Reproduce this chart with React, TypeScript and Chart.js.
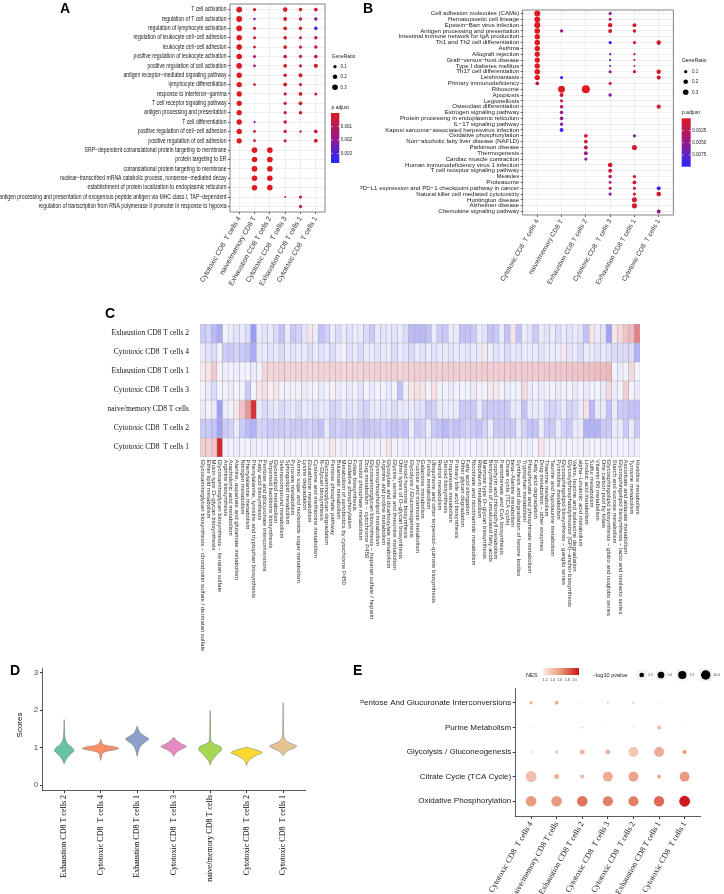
import React, { useEffect, useRef } from 'react';
import { Chart, registerables } from 'chart.js';

Chart.register(...registerables);

const SANS = 'Arial, "Liberation Sans", Helvetica, sans-serif';
const SERIF = '"Times New Roman", "Liberation Serif", Times, serif';

// ---------------- Panel A data ----------------
const aGroups = ['Cytotoxic CD8  T cells 4', 'naive/memory CD8 T', 'Exhaustion CD8 T cells 2', 'Cytotoxic CD8  T cells 3', 'Exhaustion CD8 T cells 1', 'Cytotoxic CD8  T cells 1'];
const aTerms = [
  'T cell activation',
  'regulation of T cell activation',
  'regulation of lymphocyte activation',
  'regulation of leukocyte cell\u2212cell adhesion',
  'leukocyte cell\u2212cell adhesion',
  'positive regulation of leukocyte activation',
  'positive regulation of cell activation',
  'antigen receptor\u2212mediated signaling pathway',
  'lymphocyte differentiation',
  'response to interferon\u2212gamma',
  'T cell receptor signaling pathway',
  'antigen processing and presentation',
  'T cell differentiation',
  'positive regulation of cell\u2212cell adhesion',
  'positive regulation of cell adhesion',
  'SRP\u2212dependent cotranslational protein targeting to membrane',
  'protein targeting to ER',
  'cotranslational protein targeting to membrane',
  'nuclear\u2212transcribed mRNA catabolic process, nonsense\u2212mediated decay',
  'establishment of protein localization to endoplasmic reticulum',
  'antigen processing and presentation of exogenous peptide antigen via MHC class I, TAP\u2212dependent',
  'regulation of transcription from RNA polymerase II promoter in response to hypoxia',
];
const aGeneRatio = [
  [0.33, 0.1, null, 0.2, 0.12, 0.13],
  [0.32, 0.06, null, 0.14, 0.11, 0.12],
  [0.33, 0.1, null, 0.14, 0.12, 0.12],
  [0.3, 0.09, null, 0.13, 0.09, 0.12],
  [0.3, 0.08, null, 0.13, 0.1, 0.12],
  [0.3, 0.09, null, 0.13, 0.1, 0.13],
  [0.31, 0.08, null, 0.13, 0.1, 0.16],
  [0.28, null, null, 0.11, 0.15, null],
  [0.28, 0.08, null, 0.15, 0.1, null],
  [0.27, null, null, 0.1, 0.13, 0.09],
  [0.27, null, null, 0.1, 0.14, null],
  [0.27, null, null, 0.1, 0.12, null],
  [0.28, 0.05, null, 0.12, null, null],
  [0.28, 0.08, null, 0.11, 0.06, 0.13],
  [0.27, 0.08, null, 0.1, null, 0.15],
  [null, 0.3, 0.3, null, null, null],
  [null, 0.3, 0.31, null, null, null],
  [null, 0.3, 0.3, null, null, null],
  [null, 0.3, 0.3, null, null, null],
  [null, 0.29, 0.3, null, null, null],
  [null, null, null, 0.04, 0.1, null],
  [null, null, null, null, 0.1, null],
];
const aPadjust = [
  [0.00001, 0.0004, null, 0.00002, 0.0003, 0.0004],
  [0.00001, 0.0021, null, 0.0002, 0.0003, 0.0021],
  [0.00001, 0.0005, null, 0.0002, 0.0003, 0.0036],
  [0.00001, 0.0006, null, 0.0003, 0.0005, 0.0006],
  [0.00001, 0.0006, null, 0.0003, 0.0004, 0.0005],
  [0.00001, 0.0011, null, 0.0003, 0.0004, 0.0005],
  [0.00001, 0.0013, null, 0.0003, 0.0004, 0.0004],
  [0.00001, null, null, 0.0003, 0.0002, null],
  [0.00001, 0.0006, null, 0.0002, 0.0005, null],
  [0.00001, null, null, 0.0004, 0.0002, 0.0006],
  [0.00001, null, null, 0.0004, 0.0002, null],
  [0.00001, null, null, 0.0004, 0.0002, null],
  [0.00001, 0.0022, null, 0.0003, null, null],
  [0.00001, 0.0006, null, 0.0004, 0.0006, 0.0005],
  [0.00001, 0.0006, null, 0.0005, null, 0.0004],
  [null, 0.00001, 0.00001, null, null, null],
  [null, 0.00001, 0.00001, null, null, null],
  [null, 0.00001, 0.00001, null, null, null],
  [null, 0.00001, 0.00001, null, null, null],
  [null, 0.00001, 0.00001, null, null, null],
  [null, null, null, 0.0005, 0.0004, null],
  [null, null, null, null, 0.0004, null],
];
const aPadjMax = 0.0037;
const aSizeBreaks = [0.1, 0.2, 0.3];
const aPadjBreaks = [0.001, 0.002, 0.003];

// ---------------- Panel B data ----------------
const bGroups = aGroups;
const bTerms = [
  'Cell adhesion molecules (CAMs)',
  'Hematopoietic cell lineage',
  'Epstein\u2212Barr virus infection',
  'Antigen processing and presentation',
  'Intestinal immune network for IgA production',
  'Th1 and Th2 cell differentiation',
  'Asthma',
  'Allograft rejection',
  'Graft\u2212versus\u2212host disease',
  'Type I diabetes mellitus',
  'Th17 cell differentiation',
  'Leishmaniasis',
  'Primary immunodeficiency',
  'Ribosome',
  'Apoptosis',
  'Legionellosis',
  'Osteoclast differentiation',
  'Estrogen signaling pathway',
  'Protein processing in endoplasmic reticulum',
  'IL\u221217 signaling pathway',
  'Kaposi sarcoma\u2212associated herpesvirus infection',
  'Oxidative phosphorylation',
  'Non\u2212alcoholic fatty liver disease (NAFLD)',
  'Parkinson disease',
  'Thermogenesis',
  'Cardiac muscle contraction',
  'Human immunodeficiency virus 1 infection',
  'T cell receptor signaling pathway',
  'Measles',
  'Proteasome',
  'PD\u2212L1 expression and PD\u22121 checkpoint pathway in cancer',
  'Natural killer cell mediated cytotoxicity',
  'Huntington disease',
  'Alzheimer disease',
  'Chemokine signaling pathway',
];
const bGeneRatio = [
  [0.35, null, null, 0.1, null, null],
  [0.33, null, null, 0.08, null, null],
  [0.35, null, null, 0.19, 0.15, null],
  [0.3, 0.1, null, 0.15, 0.12, null],
  [0.28, null, null, null, null, null],
  [0.3, null, null, 0.1, 0.1, 0.2],
  [0.27, null, null, null, null, null],
  [0.27, null, null, 0.05, 0.05, null],
  [0.27, null, null, 0.05, 0.05, null],
  [0.27, null, null, 0.04, 0.04, null],
  [0.3, null, null, 0.09, 0.1, 0.2],
  [0.27, 0.1, null, null, null, 0.17],
  [0.13, null, null, 0.09, null, null],
  [null, 0.45, 0.62, null, null, null],
  [null, 0.15, null, 0.12, null, null],
  [null, 0.09, null, null, null, null],
  [null, 0.12, null, null, null, 0.18],
  [null, 0.12, null, null, null, null],
  [null, 0.13, null, null, null, null],
  [null, 0.1, null, null, null, null],
  [null, 0.15, null, null, null, null],
  [null, null, 0.14, null, 0.1, null],
  [null, null, 0.14, null, null, null],
  [null, null, 0.15, null, 0.25, null],
  [null, null, 0.14, null, null, null],
  [null, null, 0.1, null, null, null],
  [null, null, null, 0.2, null, null],
  [null, null, null, 0.15, null, null],
  [null, null, null, 0.12, 0.1, null],
  [null, null, null, 0.08, 0.15, null],
  [null, null, null, 0.09, 0.09, 0.15],
  [null, null, null, 0.1, 0.1, 0.2],
  [null, null, null, null, 0.24, null],
  [null, null, null, null, 0.25, null],
  [null, null, null, null, null, 0.15],
];
const bPadjust = [
  [0.0001, null, null, 0.005, null, null],
  [0.0001, null, null, 0.005, null, null],
  [0.0001, null, null, 0.0005, 0.0005, null],
  [0.0001, 0.004, null, 0.0005, 0.0008, null],
  [0.0002, null, null, null, null, null],
  [0.0001, null, null, 0.0095, 0.001, 0.0006],
  [0.0002, null, null, null, null, null],
  [0.0002, null, null, 0.006, 0.0015, null],
  [0.0002, null, null, 0.007, 0.0015, null],
  [0.0002, null, null, 0.0075, 0.002, null],
  [0.0001, null, null, 0.0055, 0.001, 0.0006],
  [0.0002, 0.009, null, null, null, 0.0008],
  [0.003, null, null, 0.001, null, null],
  [null, 0.0001, 0.0001, null, null, null],
  [null, 0.0015, null, 0.006, null, null],
  [null, 0.0025, null, null, null, null],
  [null, 0.003, null, null, null, 0.001],
  [null, 0.005, null, null, null, null],
  [null, 0.0055, null, null, null, null],
  [null, 0.006, null, null, null, null],
  [null, 0.0095, null, null, null, null],
  [null, null, 0.001, null, 0.006, null],
  [null, null, 0.001, null, null, null],
  [null, null, 0.002, null, 0.0008, null],
  [null, null, 0.004, null, null, null],
  [null, null, 0.005, null, null, null],
  [null, null, null, 0.0005, null, null],
  [null, null, null, 0.001, null, null],
  [null, null, null, 0.003, 0.001, null],
  [null, null, null, 0.003, 0.001, null],
  [null, null, null, 0.003, 0.0015, 0.0095],
  [null, null, null, 0.006, 0.0012, 0.001],
  [null, null, null, null, 0.0008, null],
  [null, null, null, null, 0.0008, null],
  [null, null, null, null, null, 0.005],
];
const bPadjMax = 0.0099;
const bSizeBreaks = [0.1, 0.2, 0.3];
const bPadjBreaks = [0.0025, 0.005, 0.0075];

// ---------------- Panel C data ----------------
const cRows = ['Exhaustion CD8 T cells 2', 'Cytotoxic CD8  T cells 4', 'Exhaustion CD8 T cells 1', 'Cytotoxic CD8  T cells 3', 'naive/memory CD8 T cells', 'Cytotoxic CD8  T cells 2', 'Cytotoxic CD8  T cells 1'];
const cPathways = [
  'Glycosaminoglycan biosynthesis \u2212 chondroitin sulfate / dermatan sulfate',
  'Ether lipid metabolism',
  'Mucin type O\u2212glycan biosynthesis',
  'Glycosaminoglycan biosynthesis \u2212 keratan sulfate',
  'Arginine biosynthesis',
  'Arachidonic acid metabolism',
  'Alanine, aspartate and glutamate metabolism',
  'Nitrogen metabolism',
  'Phenylalanine metabolism',
  'Phenylalanine, tyrosine and tryptophan biosynthesis',
  'Fatty acid biosynthesis',
  'Pentose and glucuronate interconversions',
  'Terpenoid backbone biosynthesis',
  'Glycerolipid metabolism',
  'Selenocompound metabolism',
  'Sphingolipid metabolism',
  'Pyruvate metabolism',
  'Amino sugar and nucleotide sugar metabolism',
  'Lysine degradation',
  'Glutathione metabolism',
  'Cysteine and methionine metabolism',
  'N\u2212Glycan biosynthesis',
  'Glycosaminoglycan degradation',
  'Pentose phosphate pathway',
  'Butanoate metabolism',
  'Metabolism of xenobiotics by cytochrome P450',
  'Oxidative phosphorylation',
  'Folate biosynthesis',
  'Inositol phosphate metabolism',
  'Drug metabolism \u2212 cytochrome P450',
  'Glycosaminoglycan biosynthesis \u2212 heparan sulfate / heparin',
  'Glycerophospholipid metabolism',
  'Arginine and proline metabolism',
  'Glyoxylate and dicarboxylate metabolism',
  'Glycine, serine and threonine metabolism',
  'Other types of O\u2212glycan biosynthesis',
  'Steroid hormone biosynthesis',
  'Glycolysis / Gluconeogenesis',
  'Fructose and mannose metabolism',
  'Galactose metabolism',
  'Purine metabolism',
  'Ubiquinone and other terpenoid\u2212quinone biosynthesis',
  'Retinol metabolism',
  'Steroid biosynthesis',
  'Propanoate metabolism',
  'Primary bile acid biosynthesis',
  'Other glycan degradation',
  'Fatty acid elongation',
  'Nicotinate and nicotinamide metabolism',
  'Riboflavin metabolism',
  'Mannose type O\u2212glycan biosynthesis',
  'Biosynthesis of unsaturated fatty acids',
  'Porphyrin and chlorophyll metabolism',
  'Pantothenate and CoA biosynthesis',
  'Citrate cycle (TCA cycle)',
  'beta\u2212Alanine metabolism',
  'Synthesis and degradation of ketone bodies',
  'Tryptophan metabolism',
  'Phosphonate and phosphinate metabolism',
  'Fatty acid degradation',
  'Drug metabolism \u2212 other enzymes',
  'Thiamine metabolism',
  'Taurine and hypotaurine metabolism',
  'Pyrimidine metabolism',
  'Glycosphingolipid biosynthesis \u2212 ganglio series',
  'Glycosylphosphatidylinositol (GPI)\u2212anchor biosynthesis',
  'Valine, leucine and isoleucine degradation',
  'alpha\u2212Linolenic acid metabolism',
  'Linoleic acid metabolism',
  'Sulfur metabolism',
  'Vitamin B6 metabolism',
  'One carbon pool by folate',
  'Glycosphingolipid biosynthesis \u2212 globo and isoglobo series',
  'Starch and sucrose metabolism',
  'Glycosphingolipid biosynthesis \u2212 lacto and neolacto series',
  'Ascorbate and aldarate metabolism',
  'Tyrosine metabolism',
  'Histidine metabolism',
];
const cExhaustion2 = [
  -0.3, -0.25, -0.4, -0.5, -0.05, -0.1, -0.15, -0.1, -0.2, -0.6,
  -0.1, -0.15, -0.1, -0.2, -0.35, -0.1, -0.3, -0.25, -0.15, 0.1,
  -0.1, -0.35, -0.25, -0.1, -0.2, -0.1, -0.15, -0.1, -0.1, -0.2,
  -0.3, -0.1, -0.15, -0.1, -0.15, -0.1, -0.2, -0.4, -0.4, -0.4,
  -0.35, -0.1, -0.3, -0.3, -0.1, -0.1, -0.35, -0.35, -0.3, -0.1,
  -0.15, -0.35, -0.3, -0.1, -0.35, 0.1, -0.35, -0.1, -0.15, -0.3,
  -0.1, -0.15, -0.1, -0.2, -0.1, -0.15, -0.1, -0.15, -0.35, 0.1,
  -0.1, -0.15, -0.55, 0.1, 0.15, 0.25, 0.3, 0.55,
];
const cCytotoxic4 = [
  -0.1, -0.15, -0.2, -0.05, -0.3, -0.3, -0.25, -0.3, -0.35, -0.5,
  -0.1, -0.1, -0.15, -0.1, -0.2, -0.1, -0.15, -0.1, -0.1, -0.2,
  -0.1, -0.15, -0.1, -0.2, -0.1, -0.05, -0.15, -0.1, -0.2, -0.1,
  -0.1, -0.15, -0.1, -0.1, -0.2, -0.1, -0.15, -0.2, -0.1, -0.15,
  -0.1, -0.15, -0.1, -0.1, -0.15, -0.1, -0.1, -0.15, -0.1, -0.1,
  0.08, -0.1, -0.15, -0.1, -0.2, -0.1, -0.15, -0.1, -0.1, -0.1,
  -0.15, -0.1, -0.1, -0.1, 0.08, -0.15, -0.1, -0.2, -0.1, -0.1,
  -0.15, -0.1, -0.15, -0.2, -0.2, -0.2, -0.2, -0.45,
];
const cExhaustion1 = [
  0.08, 0.1, 0.22, -0.05, -0.08, -0.05, -0.08, -0.05, -0.05, -0.1,
  -0.05, 0.17, 0.17, 0.17, 0.18, 0.17, 0.17, 0.18, 0.17, 0.17,
  0.17, 0.18, 0.17, 0.18, 0.18, 0.17, 0.18, 0.18, 0.17, 0.18,
  0.18, 0.19, 0.18, 0.19, 0.19, 0.18, 0.19, 0.19, 0.2, 0.19,
  0.19, 0.2, 0.19, 0.2, 0.2, 0.2, 0.2, 0.21, 0.2, 0.2,
  0.21, 0.21, 0.2, 0.21, 0.21, 0.22, 0.21, 0.22, 0.22, 0.22,
  0.22, 0.23, 0.23, 0.24, 0.23, 0.24, 0.25, 0.25, 0.26, 0.27,
  0.28, 0.28, 0.3, -0.05, -0.1, -0.05, 0.15, -0.05,
];
const cCytotoxic3 = [
  -0.05, -0.1, -0.2, -0.05, -0.05, -0.1, -0.05, -0.05, -0.3, -0.05,
  0.1, 0.12, 0.05, 0.1, -0.05, 0.05, -0.05, 0.05, -0.1, -0.05,
  -0.05, -0.1, -0.05, 0.05, -0.1, -0.05, -0.1, -0.05, -0.15, -0.05,
  -0.1, -0.05, -0.05, -0.1, -0.05, -0.35, -0.05, 0.1, 0.12, 0.1,
  -0.05, 0.12, -0.05, -0.05, -0.1, -0.05, -0.05, -0.05, -0.1, 0.05,
  -0.05, 0.08, 0.08, -0.05, -0.1, -0.05, -0.05, 0.15, -0.1, -0.05,
  -0.1, -0.05, -0.05, -0.1, -0.05, -0.05, -0.1, -0.05, -0.1, -0.05,
  -0.05, -0.1, 0.15, -0.1, -0.05, 0.2, -0.05, -0.1,
];
const cNaiveMemory = [
  -0.1, -0.05, -0.1, -0.55, -0.1, -0.05, 0.1, 0.25, 0.45, 0.9,
  -0.1, -0.2, -0.15, -0.1, -0.2, -0.15, -0.1, -0.2, -0.1, -0.1,
  -0.15, -0.1, -0.1, -0.25, -0.2, -0.1, -0.15, -0.1, -0.2, -0.25,
  -0.1, -0.1, -0.15, -0.1, -0.2, -0.1, -0.1, -0.1, -0.15, -0.15,
  -0.3, -0.25, -0.1, -0.1, -0.1, -0.1, -0.3, -0.3, -0.3, -0.1,
  -0.3, -0.3, -0.3, -0.3, -0.3, -0.1, -0.1, -0.35, -0.1, -0.1,
  -0.1, -0.2, -0.25, -0.2, -0.1, -0.25, -0.2, -0.1, 0.12, -0.4,
  -0.1, -0.1, -0.35, -0.1, -0.3, -0.3, -0.35, -0.35,
];
const cCytotoxic2 = [
  -0.3, -0.3, -0.35, -0.55, -0.3, -0.25, -0.1, -0.3, -0.4, -0.45,
  -0.25, -0.25, -0.3, -0.3, -0.3, -0.25, -0.3, -0.3, -0.3, -0.25,
  -0.3, -0.35, -0.1, -0.3, -0.25, -0.3, -0.3, -0.25, -0.3, -0.35,
  -0.3, -0.3, -0.25, -0.3, -0.35, -0.3, -0.35, -0.1, -0.3, -0.25,
  -0.1, -0.3, -0.35, -0.4, -0.3, -0.35, -0.3, -0.25, -0.3, -0.35,
  -0.25, -0.1, -0.3, -0.3, -0.3, -0.3, -0.1, -0.25, -0.35, -0.35,
  -0.1, -0.3, -0.3, -0.1, -0.25, -0.3, -0.1, -0.1, -0.45, -0.45,
  -0.45, -0.3, -0.3, -0.1, -0.1, -0.3, -0.1, -0.3,
];
const cCytotoxic1 = [
  0.2, 0.2, 0.25, 0.95, -0.05, -0.05, -0.08, -0.05, -0.05, -0.08,
  -0.05, -0.05, -0.08, -0.05, -0.05, -0.08, -0.05, -0.05, -0.05, -0.08,
  -0.05, -0.05, -0.05, 0.1, -0.05, -0.08, -0.05, -0.05, -0.05, -0.08,
  -0.05, -0.05, -0.05, 0.1, -0.05, -0.05, -0.08, -0.05, -0.05, -0.05,
  -0.08, -0.05, -0.05, -0.05, -0.08, -0.05, -0.05, -0.05, -0.05, -0.08,
  -0.05, -0.05, -0.05, -0.08, -0.05, -0.05, -0.05, -0.05, -0.08, -0.05,
  0.1, -0.05, -0.05, -0.08, -0.05, -0.05, -0.05, -0.05, -0.08, -0.05,
  -0.05, -0.05, -0.08, -0.05, -0.05, -0.05, -0.08, -0.05,
];
const cScores = [cExhaustion2, cCytotoxic4, cExhaustion1, cCytotoxic3, cNaiveMemory, cCytotoxic2, cCytotoxic1];

// ---------------- Panel D data ----------------
const dGroups = ['Exhaustion CD8 T cells 2', 'Cytotoxic CD8  T cells 4', 'Exhaustion CD8 T cells 1', 'Cytotoxic CD8  T cells 3', 'naive/memory CD8 T cells', 'Cytotoxic CD8  T cells 2', 'Cytotoxic CD8  T cells 1'];
const dColors = ['#66C2A5', '#FC8D62', '#8DA0CB', '#E78AC3', '#A6D854', '#FFD92F', '#E5C494'];
const dLevels = [
  [0.57, 0.65, 0.75, 0.85, 0.92, 1.0, 1.1, 1.2, 1.3, 1.45, 1.6, 1.75],
  [0.66, 0.75, 0.85, 0.9, 0.95, 0.98, 1.02, 1.06, 1.1, 1.16, 1.22],
  [0.77, 0.85, 0.95, 1.05, 1.15, 1.23, 1.3, 1.38, 1.45, 1.52, 1.58],
  [0.77, 0.85, 0.93, 1.0, 1.04, 1.1, 1.18, 1.24, 1.28],
  [0.53, 0.62, 0.72, 0.85, 0.95, 1.03, 1.1, 1.15, 1.25, 1.5, 1.75, 2.0],
  [0.52, 0.6, 0.7, 0.8, 0.87, 0.93, 0.98, 1.02],
  [0.79, 0.86, 0.93, 1.0, 1.05, 1.1, 1.17, 1.25, 1.35, 1.6, 1.9, 2.2],
];
const dHalfWidths = [
  [0, 0.04, 0.1, 0.2, 0.27, 0.22, 0.1, 0.04, 0.02, 0.012, 0.008, 0],
  [0, 0.02, 0.05, 0.15, 0.42, 0.5, 0.4, 0.15, 0.05, 0.02, 0],
  [0, 0.02, 0.05, 0.1, 0.22, 0.32, 0.22, 0.1, 0.05, 0.02, 0],
  [0, 0.05, 0.15, 0.3, 0.35, 0.22, 0.1, 0.04, 0],
  [0, 0.03, 0.1, 0.22, 0.32, 0.28, 0.12, 0.04, 0.015, 0.01, 0.008, 0],
  [0, 0.02, 0.1, 0.28, 0.43, 0.3, 0.12, 0],
  [0, 0.05, 0.15, 0.32, 0.37, 0.25, 0.1, 0.04, 0.015, 0.008, 0.006, 0],
];
const dMeans = [0.92, 0.96, 1.23, 1.04, 0.95, 0.86, 1.04];
const dYTicks = [0, 1, 2, 3];

// ---------------- Panel E data ----------------
const eTerms = ['Pentose And Glucuronate Interconversions', 'Purine Metabolism', 'Glycolysis / Gluconeogenesis', 'Citrate Cycle (TCA Cycle)', 'Oxidative Phosphorylation'];
const eGroups = ['Cytotoxic CD8  T cells 4', 'naive/memory CD8 T cells', 'Exhaustion CD8 T cells 2', 'Cytotoxic CD8  T cells 3', 'Cytotoxic CD8  T cells 2', 'Exhaustion CD8 T cells 1', 'Cytotoxic CD8  T cells 1'];
const eLogP = [
  [1.3, 1.8, 0.2, 0.45, 0.45, 0.16, 0.1],
  [0.2, 0.07, 0.6, 0.16, 0.3, 1.8, 0.16],
  [0.75, 1.3, 2.8, 2.8, 11, 11, 1.8],
  [13.4, 2.8, 1.8, 11, 11, 1.8, 11],
  [12.5, 12.5, 12.5, 11.5, 11.5, 12, 13],
];
const eNES = [
  [1.45, 1.5, 1.3, 1.4, 1.4, 1.3, 1.2],
  [1.2, 1.2, 1.3, 1.25, 1.25, 1.4, 1.25],
  [1.25, 1.35, 1.45, 1.45, 1.35, 1.5, 1.6],
  [1.4, 1.5, 1.45, 1.5, 1.55, 1.5, 1.6],
  [1.6, 1.6, 1.75, 1.72, 1.72, 1.8, 2.1],
];
const eNesBreaks = [1.2, 1.4, 1.6, 1.8, 2.0];
const eNesRange = [1.14, 2.12];
const ePBreaks = [2.5, 5.0, 7.5, 10.0];

// ---------------- helpers ----------------
type RGB = [number, number, number];
const PADJ_STOPS: [number, RGB][] = [[0, [222, 26, 32]], [0.5, [150, 25, 140]], [1, [40, 40, 255]]];
const NES_STOPS: [number, RGB][] = [[0, [251, 236, 228]], [0.5, [232, 150, 120]], [1, [204, 20, 24]]];
const HEAT_NEG: [number, RGB][] = [[0, [250, 250, 255]], [1, [90, 90, 235]]];
const HEAT_POS: [number, RGB][] = [[0, [250, 250, 255]], [1, [205, 30, 35]]];

function mix(stops: [number, RGB][], t: number): string {
  const tt = Math.max(0, Math.min(1, t));
  for (let i = 1; i < stops.length; i++) {
    const [t0, c0] = stops[i - 1];
    const [t1, c1] = stops[i];
    if (tt <= t1) {
      const f = (tt - t0) / (t1 - t0);
      return `rgb(${Math.round(c0[0] + (c1[0] - c0[0]) * f)},${Math.round(c0[1] + (c1[1] - c0[1]) * f)},${Math.round(c0[2] + (c1[2] - c0[2]) * f)})`;
    }
  }
  const c = stops[stops.length - 1][1];
  return `rgb(${c[0]},${c[1]},${c[2]})`;
}
const heatColor = (v: number) => (v < 0 ? mix(HEAT_NEG, -v) : mix(HEAT_POS, v));
const ratioRadius = (g: number) => 5.1 * Math.sqrt(g);
const logpRadius = (p: number) => 1.5 * Math.sqrt(p);

function baseOptions(W: number, H: number, area: any) {
  return {
    responsive: false,
    maintainAspectRatio: false,
    animation: false,
    devicePixelRatio: 1,
    events: [],
    layout: { padding: { left: 0, top: area.top, right: W - area.right, bottom: 0 } },
    plugins: { legend: { display: false }, tooltip: { enabled: false }, title: { display: false } },
  };
}

const framePlugin = (color: string, width: number) => ({
  id: 'frame',
  afterDraw(chart: any) {
    const { left, top, right, bottom } = chart.chartArea;
    const c = chart.ctx;
    c.save();
    c.strokeStyle = color;
    c.lineWidth = width;
    c.strokeRect(left, top, right - left, bottom - top);
    c.restore();
  },
});

// condensed y-axis labels (narrow sans look of the original)
const condensedYLabels = (terms: string[], size: number, squeeze: number) => ({
  id: 'condensedY',
  afterDraw(chart: any) {
    const c = chart.ctx;
    const ys = chart.scales.y;
    const xRight = chart.chartArea.left - 3.5;
    c.save();
    c.font = `${size}px ${SANS}`;
    c.fillStyle = '#1a1a1a';
    c.textAlign = 'right';
    c.textBaseline = 'middle';
    c.scale(squeeze, 1);
    terms.forEach((t, i) => {
      c.fillText(t, xRight / squeeze, ys.getPixelForValue(i + 1));
    });
    c.restore();
  },
});

function dotLegendPlugin(L: any) {
  return {
    id: 'dotLegend',
    afterDraw(chart: any) {
      const c = chart.ctx;
      c.save();
      c.textBaseline = 'middle';
      c.textAlign = 'left';
      c.fillStyle = '#1a1a1a';
      c.font = `${L.titleSize}px ${SANS}`;
      c.fillText('GeneRatio', L.x, L.titleY);
      c.font = `${L.labelSize}px ${SANS}`;
      L.sizes.forEach((s: number, k: number) => {
        c.beginPath();
        c.arc(L.dotX, L.dotY[k], ratioRadius(s), 0, Math.PI * 2);
        c.fillStyle = '#000';
        c.fill();
        c.fillStyle = '#1a1a1a';
        c.fillText(s.toFixed(1), L.labelX, L.dotY[k]);
      });
      c.font = `${L.titleSize}px ${SANS}`;
      c.fillText('p.adjust', L.x, L.pTitleY);
      const g = c.createLinearGradient(0, L.barY, 0, L.barY + L.barH);
      for (let k = 0; k <= 10; k++) g.addColorStop(k / 10, mix(PADJ_STOPS, k / 10));
      c.fillStyle = g;
      c.fillRect(L.barX, L.barY, L.barW, L.barH);
      c.font = `${L.labelSize}px ${SANS}`;
      L.pBreaks.forEach((p: number) => {
        const y = L.barY + (p / L.pmax) * L.barH;
        c.strokeStyle = '#fff';
        c.lineWidth = 0.6;
        c.beginPath();
        c.moveTo(L.barX, y); c.lineTo(L.barX + 1.8, y);
        c.moveTo(L.barX + L.barW - 1.8, y); c.lineTo(L.barX + L.barW, y);
        c.stroke();
        c.fillStyle = '#1a1a1a';
        c.fillText(p.toFixed(L.digits), L.barX + L.barW + 1.5, y);
      });
      c.restore();
    },
  };
}

function dotPlotConfig(p: any) {
  const pts: any[] = [];
  const cols: string[] = [];
  p.terms.forEach((_t: string, i: number) => {
    p.groups.forEach((_g: string, j: number) => {
      const gr = p.ratio[i][j];
      if (gr == null) return;
      pts.push({ x: j + 1, y: i + 1, r: ratioRadius(gr) });
      cols.push(mix(PADJ_STOPS, p.padj[i][j] / p.pmax));
    });
  });
  const opts: any = baseOptions(p.W, p.H, p.area);
  opts.scales = {
    x: {
      type: 'linear',
      min: 0.4,
      max: p.groups.length + 0.6,
      afterBuildTicks: (s: any) => { s.ticks = p.groups.map((_g: string, j: number) => ({ value: j + 1 })); },
      afterFit: (s: any) => { s.height = p.H - p.area.bottom; },
      ticks: {
        autoSkip: false, minRotation: 60, maxRotation: 60, padding: 1,
        font: { size: p.xFontSize, family: SANS }, color: '#333',
        callback: (v: number) => p.groups[Math.round(v) - 1],
      },
      grid: { color: '#ebebeb', lineWidth: 0.8, tickColor: '#333', tickLength: 2 },
      border: { display: false },
    },
    y: {
      type: 'linear',
      reverse: true,
      min: 0.4,
      max: p.terms.length + 0.6,
      afterBuildTicks: (s: any) => { s.ticks = p.terms.map((_t: string, i: number) => ({ value: i + 1 })); },
      afterFit: (s: any) => { s.width = p.area.left; },
      ticks: {
        display: !p.condense,
        autoSkip: false, padding: 1.5,
        font: { size: p.yFontSize, family: SANS }, color: '#1a1a1a',
        callback: (v: number) => p.terms[Math.round(v) - 1],
      },
      grid: { color: '#ebebeb', lineWidth: 0.8, tickColor: '#333', tickLength: 2 },
      border: { display: false },
    },
  };
  const plugins: any[] = [framePlugin('#666', 0.8), dotLegendPlugin(p.legend)];
  if (p.condense) plugins.push(condensedYLabels(p.terms, p.yFontSize, p.condense));
  return {
    type: 'bubble',
    data: { datasets: [{ data: pts, backgroundColor: cols, borderWidth: 0 }] },
    options: opts,
    plugins,
  };
}

// ---------------- configs ----------------
const A_W = 360, A_H = 300;
const aConfig = dotPlotConfig({
  W: A_W, H: A_H, area: { left: 230, right: 325, top: 4, bottom: 212 },
  terms: aTerms, groups: aGroups, ratio: aGeneRatio, padj: aPadjust, pmax: aPadjMax,
  xFontSize: 7, yFontSize: 6.4, condense: 0.8,
  legend: {
    x: 331.5, titleY: 57, titleSize: 5, labelSize: 4.5, sizes: aSizeBreaks,
    dotX: 335, dotY: [66.7, 76.7, 87.3], labelX: 340.5,
    pTitleY: 107.7, barX: 331, barY: 113, barW: 8.3, barH: 50, pmax: aPadjMax,
    pBreaks: aPadjBreaks, digits: 3,
  },
});

const B_W = 364, B_H = 300;
const bConfig = dotPlotConfig({
  W: B_W, H: B_H, area: { left: 162.7, right: 313.3, top: 10, bottom: 215 },
  terms: bTerms, groups: bGroups, ratio: bGeneRatio, padj: bPadjust, pmax: bPadjMax,
  xFontSize: 6.6, yFontSize: 6.1, condense: 0,
  legend: {
    x: 321.7, titleY: 61, titleSize: 5.2, labelSize: 4.6, sizes: bSizeBreaks,
    dotX: 325.7, dotY: [71.7, 81.7, 92.3], labelX: 332,
    pTitleY: 113, barX: 321.7, barY: 118.3, barW: 9, barH: 48.4, pmax: bPadjMax,
    pBreaks: bPadjBreaks, digits: 4,
  },
});

const C_W = 724, C_H = 362;
const cArea = { left: 200, right: 640, top: 24, bottom: 157 };
const cColumnLabels = {
  id: 'colLabels',
  afterDraw(chart: any) {
    const c = chart.ctx;
    const xs = chart.scales.x;
    c.save();
    c.fillStyle = '#333';
    c.font = `6px ${SANS}`;
    c.textAlign = 'left';
    c.textBaseline = 'middle';
    cPathways.forEach((name, i) => {
      c.save();
      c.translate(xs.getPixelForValue(i), chart.chartArea.bottom + 2.5);
      c.rotate(Math.PI / 2);
      c.fillText(name, 0, 0);
      c.restore();
    });
    c.restore();
  },
};
const cOpts: any = baseOptions(C_W, C_H, cArea);
cOpts.scales = {
  x: {
    type: 'category',
    ticks: { display: false },
    grid: { display: false },
    border: { display: false },
    afterFit: (s: any) => { s.height = C_H - cArea.bottom; },
  },
  y: {
    type: 'linear',
    min: 0,
    max: cRows.length,
    afterBuildTicks: (s: any) => { s.ticks = cRows.map((_r, k) => ({ value: cRows.length - 0.5 - k })); },
    afterFit: (s: any) => { s.width = cArea.left; },
    ticks: {
      autoSkip: false, padding: 3,
      font: { size: 7.5, family: SERIF }, color: '#111',
      callback: (v: number) => cRows[Math.round(cRows.length - 0.5 - v)],
    },
    grid: { display: false },
    border: { display: false },
  },
};
const cConfig = {
  type: 'bar',
  data: {
    labels: cPathways,
    datasets: cRows.map((row, k) => ({
      label: row,
      data: cScores[k].map(() => [cRows.length - 1 - k, cRows.length - k]),
      backgroundColor: cScores[k].map(heatColor),
      borderColor: '#a9a9a9',
      borderWidth: 0.5,
      borderSkipped: false,
      barPercentage: 1,
      categoryPercentage: 1,
      grouped: false,
    })),
  },
  options: cOpts,
  plugins: [cColumnLabels],
};

const D_W = 360, D_H = 232;
const dArea = { left: 42.3, right: 305, top: 6, bottom: 128 };
const dTitlePlugin = {
  id: 'dTitle',
  afterDraw(chart: any) {
    const c = chart.ctx;
    c.save();
    c.translate(20, 63);
    c.rotate(-Math.PI / 2);
    c.fillStyle = '#111';
    c.font = `8px ${SANS}`;
    c.textAlign = 'center';
    c.textBaseline = 'middle';
    c.fillText('Scores', 0, 0);
    c.restore();
  },
};
const dOpts: any = baseOptions(D_W, D_H, dArea);
dOpts.scales = {
  x: {
    type: 'linear', min: 0.4, max: dGroups.length + 0.6,
    afterBuildTicks: (s: any) => { s.ticks = dGroups.map((_g, i) => ({ value: i + 1 })); },
    afterFit: (s: any) => { s.height = D_H - dArea.bottom; },
    ticks: {
      autoSkip: false, minRotation: 90, maxRotation: 90, padding: 2,
      font: { size: 8, family: SERIF }, color: '#000',
      callback: (v: number) => dGroups[Math.round(v) - 1],
    },
    grid: { display: true, drawOnChartArea: false, drawTicks: true, tickLength: 3, tickColor: '#333' },
    border: { display: true, color: '#333', width: 0.8 },
  },
  y: {
    type: 'linear', min: -0.13, max: 3.12,
    afterBuildTicks: (s: any) => { s.ticks = dYTicks.map((v) => ({ value: v })); },
    afterFit: (s: any) => { s.width = dArea.left; },
    ticks: { autoSkip: false, padding: 1.5, font: { size: 8, family: SANS }, color: '#4d4d4d' },
    grid: { display: true, drawOnChartArea: false, drawTicks: true, tickLength: 2.5, tickColor: '#333' },
    border: { display: true, color: '#333', width: 0.8 },
  },
};
const dConfig = {
  type: 'line',
  data: {
    datasets: [
      ...dGroups.map((g, i) => {
        const lv = dLevels[i];
        const hw = dHalfWidths[i];
        const right = lv.map((y, k) => ({ x: i + 1 + hw[k], y }));
        const left = lv.map((y, k) => ({ x: i + 1 - hw[k], y })).reverse();
        return {
          label: g,
          data: [...right, ...left],
          fill: 'shape',
          backgroundColor: dColors[i],
          borderColor: '#707070',
          borderWidth: 0.5,
          pointRadius: 0,
          tension: 0.3,
        };
      }),
      {
        label: 'mean',
        data: dMeans.map((m, i) => ({ x: i + 1, y: m })),
        showLine: false,
        pointRadius: 1.6,
        pointBackgroundColor: '#2424ff',
        pointBorderWidth: 0,
      },
    ],
  },
  options: dOpts,
  plugins: [dTitlePlugin],
};

const E_W = 364, E_H = 232;
const eArea = { left: 155.7, right: 340, top: 26, bottom: 154 };
const eLegendPlugin = {
  id: 'eLegend',
  afterDraw(chart: any) {
    const c = chart.ctx;
    c.save();
    c.textBaseline = 'middle';
    c.fillStyle = '#1a1a1a';
    c.font = `5.6px ${SANS}`;
    c.textAlign = 'left';
    c.fillText('NES', 166, 13);
    const bx = 183, by = 6, bw = 36, bh = 7;
    const g = c.createLinearGradient(bx, 0, bx + bw, 0);
    for (let k = 0; k <= 10; k++) g.addColorStop(k / 10, mix(NES_STOPS, k / 10));
    c.fillStyle = g;
    c.fillRect(bx, by, bw, bh);
    c.font = `3.4px ${SANS}`;
    c.textAlign = 'center';
    c.fillStyle = '#333';
    eNesBreaks.forEach((v) => {
      const x = bx + ((v - eNesRange[0]) / (eNesRange[1] - eNesRange[0])) * bw;
      c.fillText(v.toFixed(1), x, 18);
    });
    c.textAlign = 'left';
    c.fillStyle = '#1a1a1a';
    c.font = `5.6px ${SANS}`;
    c.fillText('\u2212log10 pvalue', 232.7, 13);
    const keyX = [281.7, 301, 322.3, 345.7];
    ePBreaks.forEach((p, k) => {
      const r = logpRadius(p);
      const sz = Math.max(10, 2 * r + 3);
      c.fillStyle = '#f2f2f2';
      c.fillRect(keyX[k] - sz / 2, 13 - sz / 2, sz, sz);
      c.beginPath();
      c.arc(keyX[k], 13, r, 0, Math.PI * 2);
      c.fillStyle = '#000';
      c.fill();
      c.fillStyle = '#333';
      c.font = `3.4px ${SANS}`;
      c.fillText(p.toFixed(1), keyX[k] + sz / 2 + 1.5, 13);
    });
    c.restore();
  },
};
const ePts: any[] = [];
const eCols: string[] = [];
eTerms.forEach((_t, i) => {
  eGroups.forEach((_g, j) => {
    ePts.push({ x: j + 1, y: i + 1, r: logpRadius(eLogP[i][j]) });
    eCols.push(mix(NES_STOPS, (eNES[i][j] - eNesRange[0]) / (eNesRange[1] - eNesRange[0])));
  });
});
const eOpts: any = baseOptions(E_W, E_H, eArea);
eOpts.scales = {
  x: {
    type: 'linear', min: 0.4, max: eGroups.length + 0.6,
    afterBuildTicks: (s: any) => { s.ticks = eGroups.map((_g, j) => ({ value: j + 1 })); },
    afterFit: (s: any) => { s.height = E_H - eArea.bottom; },
    ticks: {
      autoSkip: false, minRotation: 60, maxRotation: 60, padding: 1,
      font: { size: 8, family: SERIF }, color: '#111',
      callback: (v: number) => eGroups[Math.round(v) - 1],
    },
    grid: { display: true, drawOnChartArea: false, drawTicks: true, tickLength: 3, tickColor: '#333' },
    border: { display: true, color: '#333', width: 0.8 },
  },
  y: {
    type: 'linear', reverse: true, min: 0.4, max: eTerms.length + 0.6,
    afterBuildTicks: (s: any) => { s.ticks = eTerms.map((_t, i) => ({ value: i + 1 })); },
    afterFit: (s: any) => { s.width = eArea.left; },
    ticks: {
      autoSkip: false, padding: 1.5,
      font: { size: 8, family: SANS }, color: '#222',
      callback: (v: number) => eTerms[Math.round(v) - 1],
    },
    grid: { display: true, drawOnChartArea: false, drawTicks: true, tickLength: 3, tickColor: '#333' },
    border: { display: true, color: '#333', width: 0.8 },
  },
};
const eConfig = {
  type: 'bubble',
  data: { datasets: [{ data: ePts, backgroundColor: eCols, borderWidth: 0 }] },
  options: eOpts,
  plugins: [eLegendPlugin],
};

// ---------------- components ----------------
function ChartBox(props: { left: number; top: number; width: number; height: number; config: any }) {
  const ref = useRef<HTMLCanvasElement>(null);
  useEffect(() => {
    const chart = new Chart(ref.current as HTMLCanvasElement, props.config);
    return () => chart.destroy();
  }, []);
  return (
    <canvas
      ref={ref}
      width={props.width}
      height={props.height}
      style={{ position: 'absolute', left: props.left, top: props.top, width: props.width, height: props.height }}
    />
  );
}

function PanelLetter(props: { text: string; left: number; top: number }) {
  return (
    <div
      style={{
        position: 'absolute', left: props.left, top: props.top,
        font: `bold 14px ${SANS}`, lineHeight: '14px', color: '#000',
      }}
    >
      {props.text}
    </div>
  );
}

export default function App() {
  return (
    <div style={{ position: 'absolute', left: 0, top: 0, width: 724, height: 894, background: '#fff', overflow: 'hidden' }}>
      <ChartBox left={0} top={0} width={A_W} height={A_H} config={aConfig} />
      <ChartBox left={360} top={0} width={B_W} height={B_H} config={bConfig} />
      <ChartBox left={0} top={300} width={C_W} height={C_H} config={cConfig} />
      <ChartBox left={0} top={662} width={D_W} height={D_H} config={dConfig} />
      <ChartBox left={360} top={662} width={E_W} height={E_H} config={eConfig} />
      <PanelLetter text="A" left={60} top={1} />
      <PanelLetter text="B" left={363} top={1} />
      <PanelLetter text="C" left={105} top={306} />
      <PanelLetter text="D" left={10} top={663} />
      <PanelLetter text="E" left={353} top={663} />
    </div>
  );
}
